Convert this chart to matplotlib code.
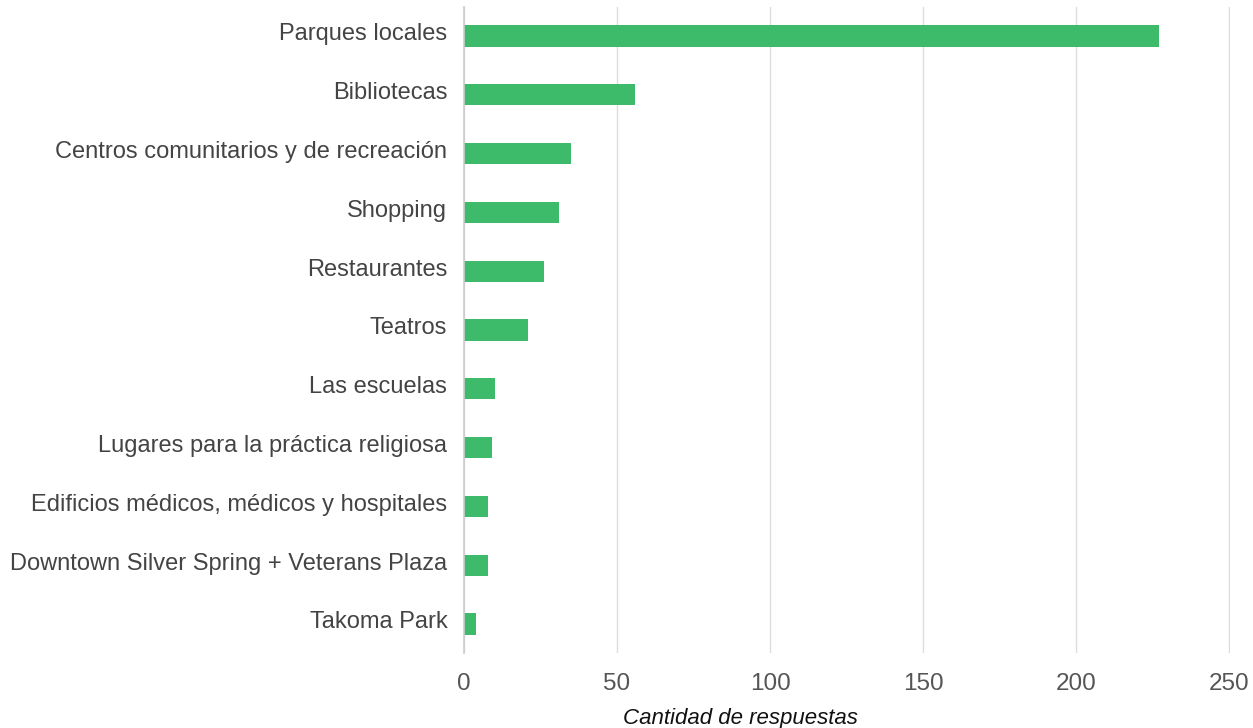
import matplotlib.pyplot as plt
import matplotlib.transforms as mtransforms

categories = [
    "Parques locales",
    "Bibliotecas",
    "Centros comunitarios y de recreación",
    "Shopping",
    "Restaurantes",
    "Teatros",
    "Las escuelas",
    "Lugares para la práctica religiosa",
    "Edificios médicos, médicos y hospitales",
    "Downtown Silver Spring + Veterans Plaza",
    "Takoma Park",
]
responses = [227, 56, 35, 31, 26, 21, 10, 9, 8, 8, 4]
x_ticks = [0, 50, 100, 150, 200, 250]

BAR_COLOR = "#3dba6a"

plt.rcParams["font.family"] = ["Liberation Sans", "DejaVu Sans"]

fig = plt.figure(figsize=(12.53, 7.28), dpi=100)
ax = fig.add_axes([0.3703, 0.1025, 0.6113, 0.8885])

ypos = list(range(len(categories)))
ax.barh(ypos, responses, height=0.36, color=BAR_COLOR, zorder=3)

ax.set_ylim(len(categories) - 0.5, -0.5)
ax.set_xlim(0, 250.2)
ax.set_xticks(x_ticks)
ax.set_xticklabels([str(t) for t in x_ticks], fontsize=17.5, color="#555555")
ax.set_yticks(ypos)
ax.set_yticklabels(categories, fontsize=17, color="#444444")
ax.tick_params(axis="y", length=0, pad=12)
ax.tick_params(axis="x", length=0, pad=14)

# labels sit a little above the bar centres in the original
shift = mtransforms.ScaledTranslation(0, 4 / 100, fig.dpi_scale_trans)
for lbl in ax.get_yticklabels():
    lbl.set_transform(lbl.get_transform() + shift)

ax.grid(axis="x", color="#dddddd", linewidth=1, zorder=0)
for side in ["top", "right", "bottom"]:
    ax.spines[side].set_visible(False)
ax.spines["left"].set_color("#cccccc")
ax.spines["left"].set_linewidth(1.2)
ax.spines["left"].set_zorder(4)

ax.set_xlabel("Cantidad de respuestas", fontsize=16, style="italic", color="#111111")
ax.xaxis.set_label_coords(0.361, -0.085)

fig.savefig("out.png", dpi=100)
